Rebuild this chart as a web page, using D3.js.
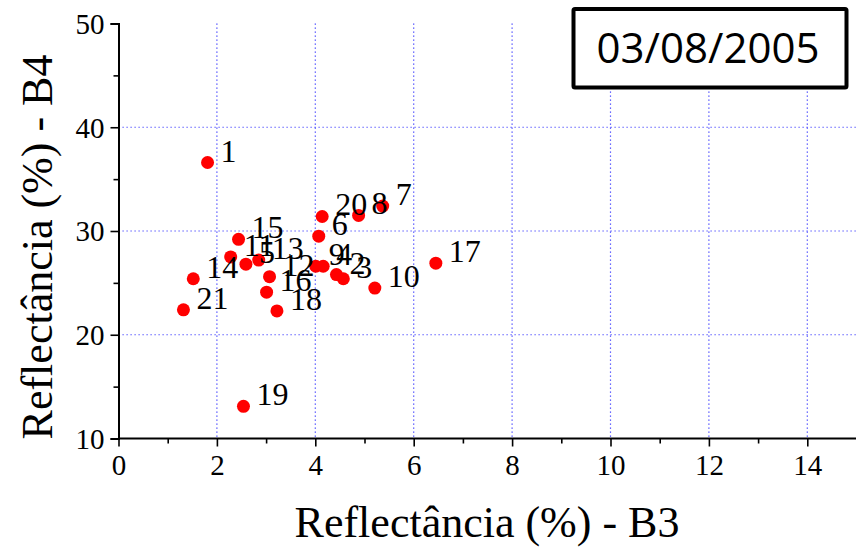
<!DOCTYPE html>
<html>
<head>
<meta charset="utf-8">
<script src="https://cdn.jsdelivr.net/npm/d3@7"></script>
<style>
  html, body { margin: 0; padding: 0; background: #fff; }
  svg { display: block; }
</style>
</head>
<body>
<svg id="chart" width="856" height="548"></svg>
<script>
// Sample reflectance, band 3 vs band 4 (%)
const pointIds = [1, 2, 3, 4, 5, 6, 7, 8, 9, 10, 11, 12, 13, 14, 15, 16, 17, 18, 19, 20, 21];
const b3Values = [1.81, 4.43, 4.57, 4.16, 2.59, 4.07, 5.37, 4.88, 4.01, 5.21, 2.28, 3.07, 2.85, 1.52, 2.44, 3.01, 6.45, 3.22, 2.54, 4.14, 1.32];
const b4Values = [36.6, 25.8, 25.4, 26.6, 26.8, 29.5, 32.4, 31.5, 26.6, 24.5, 27.5, 25.6, 27.2, 25.4, 29.2, 24.1, 26.9, 22.3, 13.1, 31.4, 22.4];
const xTicks = [0, 2, 4, 6, 8, 10, 12, 14];
const yTicks = [10, 20, 30, 40, 50];
const xTitle = "Reflectância (%) - B3";
const yTitle = "Reflectância (%) - B4";
const dateLabel = "03/08/2005";

const svg = d3.select("#chart");
const plotLeft = 118.5, plotRight = 856, plotTop = 23.5, plotBottom = 438.5;

const x = d3.scaleLinear().domain([0, 15]).range([plotLeft, plotLeft + 15 * 49.2]);
const y = d3.scaleLinear().domain([10, 50]).range([plotBottom, plotTop]);

const serif = "'Liberation Serif', 'Times New Roman', serif";

// dotted grid
const grid = svg.append("g").attr("stroke", "#3a3aff").attr("stroke-width", 1.2)
  .attr("stroke-dasharray", "1.2,2.8");
grid.selectAll("line.v").data(xTicks.filter(d => d > 0)).join("line").attr("class", "v")
  .attr("x1", d => x(d)).attr("x2", d => x(d))
  .attr("y1", plotTop).attr("y2", plotBottom);
grid.selectAll("line.h").data([20, 30, 40]).join("line").attr("class", "h")
  .attr("x1", plotLeft).attr("x2", plotRight)
  .attr("y1", d => y(d)).attr("y2", d => y(d));

// axes
const xAxis = d3.axisBottom(x).tickValues(xTicks).tickFormat(d3.format("d")).tickSizeOuter(0).tickSize(8).tickPadding(6);
const xMinor = d3.axisBottom(x).tickValues(d3.range(1, 15, 2)).tickFormat("").tickSizeOuter(0).tickSize(5);
const yAxis = d3.axisLeft(y).tickValues(yTicks).tickFormat(d3.format("d")).tickSizeOuter(0).tickSize(8).tickPadding(6);
const yMinor = d3.axisLeft(y).tickValues([15, 25, 35, 45]).tickFormat("").tickSizeOuter(0).tickSize(5);

function styleAxis(g) {
  g.select(".domain").attr("stroke", "#000").attr("stroke-width", 2);
  g.selectAll(".tick line").attr("stroke", "#000").attr("stroke-width", 1.6);
  g.selectAll(".tick text").attr("font-family", serif).attr("font-size", 29).attr("fill", "#000");
}

const gx = svg.append("g").attr("transform", `translate(0,${plotBottom})`).call(xAxis).call(styleAxis);
gx.select(".domain").attr("d", `M${plotLeft},0H${plotRight}`);
svg.append("g").attr("transform", `translate(0,${plotBottom})`).call(xMinor).call(styleAxis).select(".domain").remove();
gx.selectAll(".tick text").attr("dy", "0.78em");

const gy = svg.append("g").attr("transform", `translate(${plotLeft},0)`).call(yAxis).call(styleAxis);
svg.append("g").attr("transform", `translate(${plotLeft},0)`).call(yMinor).call(styleAxis).select(".domain").remove();
gy.selectAll(".tick text").attr("dy", "0.34em");

// points
const data = pointIds.map((id, i) => ({ id, b3: b3Values[i], b4: b4Values[i] }));
svg.append("g").selectAll("circle").data(data).join("circle")
  .attr("cx", d => x(d.b3)).attr("cy", d => y(d.b4)).attr("r", 6.5)
  .attr("fill", "#ff0000");

svg.append("g").selectAll("text").data(data).join("text")
  .attr("x", d => x(d.b3) + 13).attr("y", d => y(d.b4) - 1)
  .attr("font-family", serif).attr("font-size", 32).attr("fill", "#000")
  .text(d => d.id);

// axis titles
svg.append("text").attr("x", 487).attr("y", 537).attr("text-anchor", "middle")
  .attr("font-family", serif).attr("font-size", 44).attr("fill", "#000").text(xTitle);
svg.append("text").attr("transform", "translate(52,247) rotate(-90)").attr("text-anchor", "middle")
  .attr("font-family", serif).attr("font-size", 44).attr("fill", "#000").text(yTitle);

// date box
svg.append("rect").attr("x", 573.5).attr("y", 9).attr("width", 273).attr("height", 78.5)
  .attr("fill", "#fff").attr("stroke", "#000").attr("stroke-width", 4).attr("rx", 1.5);
svg.append("text").attr("x", 708).attr("y", 63).attr("text-anchor", "middle")
  .attr("font-family", "'Open Sans', 'Noto Sans', sans-serif").attr("font-size", 42).attr("fill", "#000")
  .text(dateLabel);
</script>
</body>
</html>
